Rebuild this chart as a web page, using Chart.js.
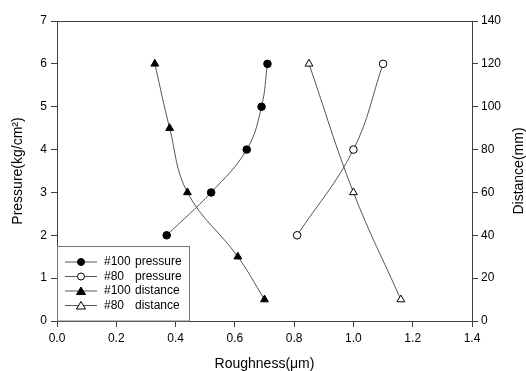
<!DOCTYPE html>
<html>
<head>
<meta charset="utf-8">
<script src="https://cdn.jsdelivr.net/npm/chart.js"></script>
<style>
  body { margin: 0; background: #fff; }
  #wrap { width: 526px; height: 371px; }
</style>
</head>
<body>
<div id="wrap"><canvas id="roughChart" width="526" height="371"></canvas></div>
<script>
// data
const seriesLabels = ['#100 pressure', '#80 pressure', '#100 distance', '#80 distance'];

const rough100Pressure = [0.37, 0.52, 0.64, 0.69, 0.71];
const pressure100 = [2, 3, 4, 5, 6];

const rough80Pressure = [0.81, 1.0, 1.10];
const pressure80 = [2, 4, 6];

const rough100Distance = [0.33, 0.38, 0.44, 0.61, 0.70];
const distance100 = [120, 90, 60, 30, 10];

const rough80Distance = [0.85, 1.0, 1.16];
const distance80 = [120, 60, 10];

const xTicks = [0, 0.2, 0.4, 0.6, 0.8, 1.0, 1.2, 1.4];

const FONT = '"Liberation Sans", Arial, sans-serif';
const LINE = '#555';

function pts(xs, ys) {
  return xs.map((x, i) => ({ x: x, y: ys[i] }));
}

function series(label, xs, ys, axis, style, fill) {
  return {
    label: label,
    data: pts(xs, ys),
    yAxisID: axis,
    showLine: true,
    borderColor: LINE,
    borderWidth: 1,
    tension: 0.4,
    pointStyle: style,
    pointRadius: style === 'triangle' ? 4.5 : 3.8,
    pointBackgroundColor: fill,
    pointBorderColor: '#000',
    pointBorderWidth: 1
  };
}

// legend box drawn inside the plot, bottom-left
const boxLegend = {
  id: 'boxLegend',
  afterDatasetsDraw(chart) {
    const ctx = chart.ctx;
    const a = chart.chartArea;
    const x0 = a.left, y0 = a.bottom - 75, w = 132, h = 75;
    ctx.save();
    ctx.fillStyle = '#fff';
    ctx.fillRect(x0, y0, w, h);
    ctx.strokeStyle = '#777';
    ctx.lineWidth = 1;
    ctx.strokeRect(x0 + 0.5, y0 + 0.5, w, h - 0.5);
    ctx.font = '12px ' + FONT;
    ctx.textBaseline = 'middle';
    chart.data.datasets.forEach((ds, i) => {
      const y = y0 + 16 + i * 14.5;
      ctx.strokeStyle = LINE;
      ctx.beginPath();
      ctx.moveTo(x0 + 8, y);
      ctx.lineTo(x0 + 40, y);
      ctx.stroke();
      const cx = x0 + 24;
      ctx.fillStyle = ds.pointBackgroundColor;
      ctx.strokeStyle = '#000';
      ctx.beginPath();
      if (ds.pointStyle === 'triangle') {
        ctx.moveTo(cx, y - 4);
        ctx.lineTo(cx + 4.5, y + 3.5);
        ctx.lineTo(cx - 4.5, y + 3.5);
        ctx.closePath();
      } else {
        ctx.arc(cx, y, 3.5, 0, Math.PI * 2);
      }
      ctx.fill();
      ctx.stroke();
      const parts = ds.label.split(' ');
      ctx.fillStyle = '#000';
      ctx.textAlign = 'left';
      ctx.fillText(parts[0], x0 + 47, y);
      ctx.fillText(parts[1], x0 + 78, y);
    });
    ctx.restore();
  }
};

// top frame line and right axis title (reads bottom to top)
const frame = {
  id: 'frame',
  afterDraw(chart) {
    const ctx = chart.ctx;
    const a = chart.chartArea;
    ctx.save();
    ctx.strokeStyle = '#404040';
    ctx.lineWidth = 1;
    ctx.beginPath();
    ctx.moveTo(a.left, a.top + 0.5);
    ctx.lineTo(a.right, a.top + 0.5);
    ctx.stroke();
    ctx.translate(519, (a.top + a.bottom) / 2);
    ctx.rotate(-Math.PI / 2);
    ctx.font = '14px ' + FONT;
    ctx.fillStyle = '#000';
    ctx.textAlign = 'center';
    ctx.textBaseline = 'middle';
    ctx.fillText('Distance(mm)', 0, 0);
    ctx.restore();
  }
};

const tickFont = { family: FONT, size: 12 };
const titleFont = { family: FONT, size: 14 };

new Chart(document.getElementById('roughChart'), {
  type: 'scatter',
  data: {
    datasets: [
      series(seriesLabels[0], rough100Pressure, pressure100, 'y', 'circle', '#000'),
      series(seriesLabels[1], rough80Pressure, pressure80, 'y', 'circle', '#fff'),
      series(seriesLabels[2], rough100Distance, distance100, 'y1', 'triangle', '#000'),
      series(seriesLabels[3], rough80Distance, distance80, 'y1', 'triangle', '#fff')
    ]
  },
  options: {
    responsive: false,
    animation: false,
    layout: { padding: { top: 21, left: 0, right: 0, bottom: 0 } },
    plugins: {
      legend: { display: false },
      tooltip: { enabled: false }
    },
    scales: {
      x: {
        type: 'linear',
        min: 0,
        max: 1.4,
        afterBuildTicks: s => { s.ticks = xTicks.map(v => ({ value: v })); },
        afterFit: s => { s.height = 50; },
        ticks: { color: '#000', font: tickFont, padding: 4, callback: v => v.toFixed(1) },
        grid: { drawOnChartArea: false, color: '#404040', tickLength: 6 },
        border: { color: '#404040' },
        title: { display: true, text: 'Roughness(μm)', color: '#000', font: titleFont, padding: { top: 0, bottom: -2 } }
      },
      y: {
        position: 'left',
        min: 0,
        max: 7,
        afterFit: s => { s.width = 57; },
        ticks: { stepSize: 1, color: '#000', font: tickFont, padding: 4 },
        grid: { drawOnChartArea: false, color: '#404040', tickLength: 6 },
        border: { color: '#404040' },
        title: { display: true, text: 'Pressure(kg/cm²)', color: '#000', font: titleFont, padding: { top: 10, bottom: 0 } }
      },
      y1: {
        position: 'right',
        min: 0,
        max: 140,
        afterFit: s => { s.width = 54; },
        ticks: { stepSize: 20, color: '#000', font: tickFont, padding: 3 },
        grid: { drawOnChartArea: false, color: '#404040', tickLength: 6 },
        border: { color: '#404040' }
      }
    }
  },
  plugins: [boxLegend, frame]
});
</script>
</body>
</html>
